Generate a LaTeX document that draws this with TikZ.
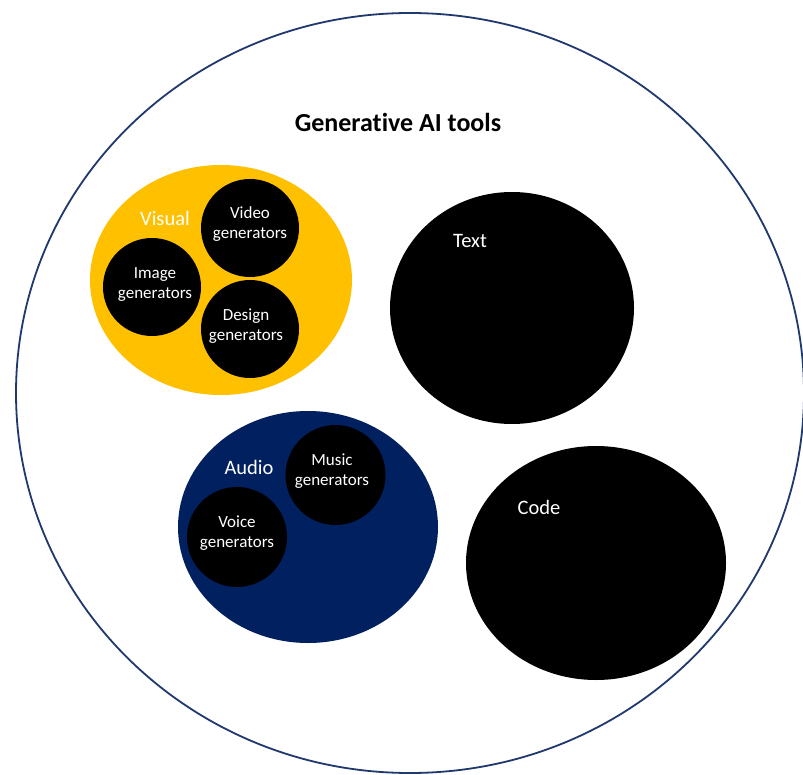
\documentclass[tikz,border=0pt]{standalone}
\usepackage{fontspec}
\setmainfont{Carlito}[Ligatures=CommonOff]
\definecolor{outl}{RGB}{31,56,110}
\definecolor{vis}{RGB}{255,192,0}
\definecolor{aud}{RGB}{0,32,96}
\begin{document}
\begin{tikzpicture}[x=1pt,y=-1pt,
  sub/.style={text=white,align=center,font=\fontsize{17}{20}\selectfont},
  grp/.style={text=white,font=\fontsize{20.5}{24}\selectfont},
  blob/.style={fill=black,draw=none}]
\useasboundingbox (0,0) rectangle (803,775);
\fill[white] (0,0) rectangle (803,775);
% outer
\draw[outl,line width=1.8pt] (410,393) ellipse [x radius=394,y radius=380];
\node[font=\bfseries\fontsize{26}{30}\selectfont] (title) at (398,122) {Generative AI tools};
% visual
\fill[vis] (221,280) ellipse [x radius=131,y radius=115];
\node[grp] (visual) at (165,218) {Visual};
\fill[blob] (250,228) circle (49);
\fill[blob] (152,287) circle (49);
\fill[blob] (250,329) circle (49);
\node[sub] (video) at (250,224) {Video\\generators};
\node[sub] (image) at (155,285) {Image\\generators};
\node[sub] (design) at (246,326) {Design\\generators};
% text
\fill[blob] (512,308) ellipse [x radius=122,y radius=116];
\node[grp] (text) at (470,241) {Text};
% audio
\fill[aud] (308,527) ellipse [x radius=130,y radius=116];
\node[grp] (audio) at (249,467) {Audio};
\fill[blob] (335.5,475) circle (50);
\fill[blob] (237,537) circle (50);
\node[sub] (music) at (332,471) {Music\\generators};
\node[sub] (voice) at (237,533) {Voice\\generators};
% code
\fill[blob] (596,563) ellipse [x radius=130,y radius=117];
\node[grp] (code) at (539,507) {Code};
\end{tikzpicture}
\end{document}
